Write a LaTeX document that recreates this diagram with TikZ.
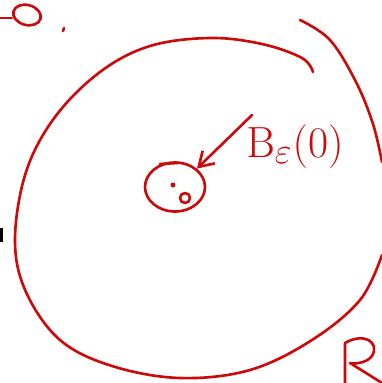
\documentclass[tikz,border=0pt]{standalone}
\usetikzlibrary{arrows.meta,positioning,shapes.geometric}
\definecolor{ink}{HTML}{CC0A0A}
\begin{document}
\begin{tikzpicture}[x=0.02cm,y=-0.02cm,
  pen/.style={draw=ink,line width=1.5pt,line cap=round,line join=round},
  blob/.style={ellipse,pen,minimum width=1.2cm,minimum height=0.98cm,inner sep=0pt},
  lbl/.style={text=ink,font=\fontsize{30}{30}\selectfont,inner sep=0pt}]
  \useasboundingbox (0,0) rectangle (382,383);
  % the region
  \draw[pen] plot[smooth,tension=0.6] coordinates {(313,72) (302,58) (262,44) (210,38) (150,46) (100,72)
    (55,117) (26,172) (15,240) (26,292) (60,340) (112,366) (180,378) (250,370) (312,340) (360,300) (382,255)};
  \draw[pen] plot[smooth,tension=0.6] coordinates {(300,20) (330,40) (356,82) (373,124) (382,162)};
  % the small ball
  \node[blob] (ball) at (175,187) {};
  \draw[pen] (160,164) -- (178,163);
  \fill[ink] (173,185) circle (2.5);
  \draw[pen] (185,198) circle (5);
  \coordinate (tail) at (252,115);
  \draw[pen,-{Straight Barb[length=8pt,width=10pt]}] (tail) -- (ball.40);
  \node[lbl,anchor=north west] (name) at (246,124) {$\mathrm{B}_\varepsilon(0)$};
  % pieces cut off at the edges
  \draw[pen] (0,18) -- (12,18);
  \draw[pen,rotate around={-15:(27,15)}] (27,15) ellipse (14 and 10);
  \draw[pen] (64,28) -- (63,31);
  \draw[pen] (345,383) -- (345,343) .. controls (364,332) and (380,342) .. (372,356)
    .. controls (366,364) and (352,364) .. (350,363) -- (382,383);
  \draw[black,line width=2pt] (1,228) -- (1,242);
\end{tikzpicture}
\end{document}
